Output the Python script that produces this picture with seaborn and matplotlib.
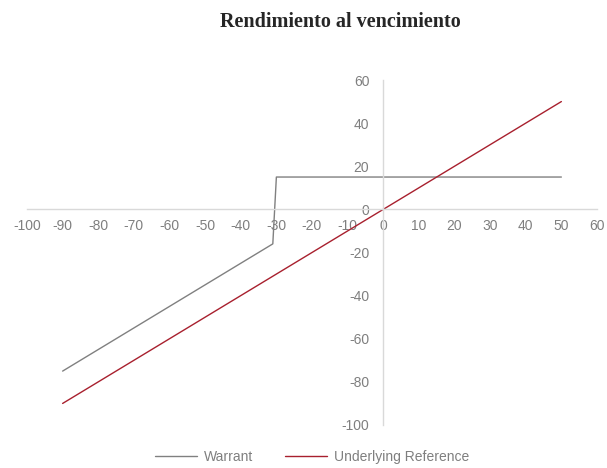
import pandas as pd
import seaborn as sns
import matplotlib
matplotlib.use('Agg')
import matplotlib.pyplot as plt

# data
warrant_x = [-90, -31, -30, 50]
warrant_y = [-75, -16, 15, 15]
underlying_x = [-90, 50]
underlying_y = [-90, 50]
x_ticks = list(range(-100, 61, 10))
y_ticks = list(range(-100, 61, 20))

df = pd.concat([
    pd.DataFrame({'x': warrant_x, 'y': warrant_y, 'Serie': 'Warrant'}),
    pd.DataFrame({'x': underlying_x, 'y': underlying_y, 'Serie': 'Underlying Reference'}),
], ignore_index=True)

sns.set_style('white')
plt.rcParams['font.family'] = ['Liberation Sans', 'DejaVu Sans']
plt.rcParams['axes.unicode_minus'] = False

fig = plt.figure(figsize=(6.07, 4.68), dpi=100)
ax = fig.add_axes([27 / 607, 1 - 425 / 468, 570 / 607, 345 / 468])

sns.lineplot(data=df, x='x', y='y', hue='Serie', sort=False, estimator=None,
             palette={'Warrant': '#808080', 'Underlying Reference': '#a8202e'},
             linewidth=1.0, ax=ax, legend=False)

ax.set_xlim(-100, 60)
ax.set_ylim(-100, 60)
ax.set_xticks(x_ticks)
ax.set_yticks(y_ticks)
ax.set_xlabel('')
ax.set_ylabel('')

# axes crossing at zero, Excel style
for s in ['top', 'right']:
    ax.spines[s].set_visible(False)
ax.spines['left'].set_position(('data', 0))
ax.spines['bottom'].set_position(('data', 0))
for s in ['left', 'bottom']:
    ax.spines[s].set_color('#d9d9d9')
    ax.spines[s].set_linewidth(1.0)
ax.tick_params(axis='x', length=0, pad=7, labelsize=10, labelcolor='#7f7f7f')
ax.tick_params(axis='y', length=0, pad=10, labelsize=10, labelcolor='#7f7f7f')

fig.text(340 / 607, 1 - 22 / 468, 'Rendimiento al vencimiento', ha='center', va='center',
         fontsize=14.5, fontweight='bold', family=['Liberation Serif', 'DejaVu Serif'])

handles = [plt.Line2D([], [], color='#808080', lw=1.0),
           plt.Line2D([], [], color='#a8202e', lw=1.0)]
fig.legend(handles, ['Warrant', 'Underlying Reference'], loc='lower center',
           bbox_to_anchor=(312 / 607, -0.018), ncol=2, frameon=False,
           fontsize=10, labelcolor='#7f7f7f', handlelength=3.0, columnspacing=2.3,
           handletextpad=0.5)

plt.savefig('out.png', dpi=100)
